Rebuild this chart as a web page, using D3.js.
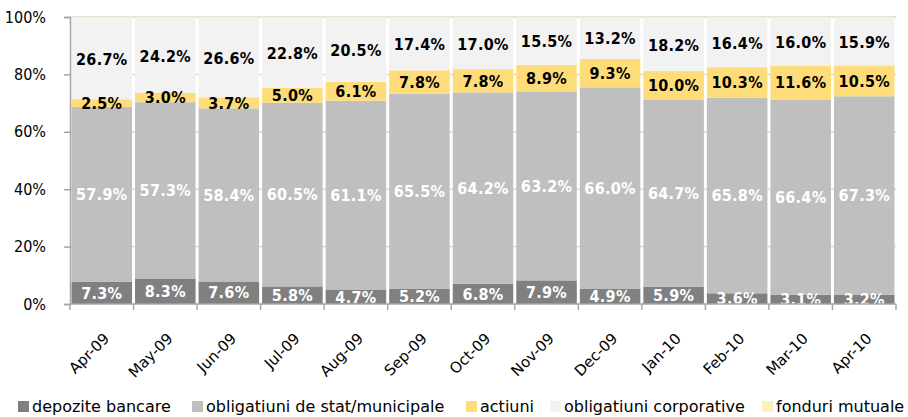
<!DOCTYPE html>
<html>
<head>
<meta charset="utf-8">
<script src="https://cdn.jsdelivr.net/npm/d3@7"></script>
<style>
  body { margin: 0; background: #fff; }
  svg { display: block; font-family: "DejaVu Sans", sans-serif; }
</style>
</head>
<body>
<svg id="chart" width="908" height="417"></svg>
<script>
// months on the x axis
var months = ["Apr-09","May-09","Jun-09","Jul-09","Aug-09","Sep-09","Oct-09","Nov-09","Dec-09","Jan-10","Feb-10","Mar-10","Apr-10"];

// series values (% of portfolio)
var depozite    = [7.3, 8.3, 7.6, 5.8, 4.7, 5.2, 6.8, 7.9, 4.9, 5.9, 3.6, 3.1, 3.2];
var stat        = [57.9, 57.3, 58.4, 60.5, 61.1, 65.5, 64.2, 63.2, 66.0, 64.7, 65.8, 66.4, 67.3];
var actiuni     = [2.5, 3.0, 3.7, 5.0, 6.1, 7.8, 7.8, 8.9, 9.3, 10.0, 10.3, 11.6, 10.5];
var corporative = [26.7, 24.2, 26.6, 22.8, 20.5, 17.4, 17.0, 15.5, 13.2, 18.2, 16.4, 16.0, 15.9];
var fonduri     = [0.5, 0.5, 0.5, 0.5, 0.5, 0.5, 0.5, 0.5, 0.5, 0.5, 0.5, 0.5, 0.5];

var yTicks = [0, 0.2, 0.4, 0.6, 0.8, 1];

var series = [
  {key: "dep",  name: "depozite bancare",               values: depozite,    color: "#808080", label: "#ffffff", show: true},
  {key: "stat", name: "obligatiuni de stat/municipale", values: stat,        color: "#bfbfbf", label: "#ffffff", show: true},
  {key: "act",  name: "actiuni",                        values: actiuni,     color: "#ffdc7a", label: "#000000", show: true},
  {key: "corp", name: "obligatiuni corporative",        values: corporative, color: "#f2f2f2", label: "#000000", show: true},
  {key: "fond", name: "fonduri mutuale",                values: fonduri,     color: "#ffefbf", label: "#000000", show: false}
];

// build table rows for the stack
var rows = months.map(function(m, i){
  var r = {month: m};
  series.forEach(function(s){ r[s.key] = s.values[i]; });
  return r;
});

var margin = {left: 70, right: 12, top: 17, bottom: 113};
var W = 908, H = 417;

var svg = d3.select("#chart");

var x = d3.scaleBand()
  .domain(months)
  .range([margin.left, W - margin.right])
  .paddingInner(0).paddingOuter(0);

var y = d3.scaleLinear()
  .domain([0, 1])
  .range([H - margin.bottom, margin.top]);

var stack = d3.stack()
  .keys(series.map(function(s){ return s.key; }))
  .offset(d3.stackOffsetExpand);

var layers = stack(rows);

// gridlines
svg.append("g")
  .selectAll("line")
  .data(yTicks.slice(1))
  .join("line")
    .attr("x1", margin.left)
    .attr("x2", W - margin.right)
    .attr("y1", function(d){ return y(d); })
    .attr("y2", function(d){ return y(d); })
    .style("stroke", "#d9d9d9")
    .style("stroke-width", 1.5);

// bars
var gap = 3;
svg.append("g")
  .selectAll("g")
  .data(layers)
  .join("g")
    .style("fill", function(d, i){ return series[i].color; })
  .selectAll("rect")
  .data(function(d){ return d; })
  .join("rect")
    .attr("x", function(d){ return x(d.data.month) + gap / 2; })
    .attr("width", x.bandwidth() - gap)
    .attr("y", function(d){ return y(d[1]); })
    .attr("height", function(d){ return y(d[0]) - y(d[1]); });

// clip for labels at plot area
svg.append("clipPath").attr("id", "plotClip")
  .append("rect")
    .attr("x", margin.left)
    .attr("y", margin.top)
    .attr("width", W - margin.left - margin.right)
    .attr("height", H - margin.top - margin.bottom);

var labelG = svg.append("g").attr("clip-path", "url(#plotClip)");

layers.forEach(function(layer, i){
  var s = series[i];
  if (!s.show) return;
  labelG.append("g")
    .selectAll("text")
    .data(layer)
    .join("text")
      .attr("x", function(d){ return x(d.data.month) + x.bandwidth() / 2; })
      .attr("y", function(d){ return (y(d[0]) + y(d[1])) / 2; })
      .attr("dy", "0.36em")
      .attr("text-anchor", "middle")
      .style("font-family", "'DejaVu Sans Condensed', 'DejaVu Sans', sans-serif")
      .style("font-stretch", "condensed")
      .style("font-size", "16px")
      .style("font-weight", "bold")
      .style("letter-spacing", "0.3px")
      .style("fill", s.label)
      .text(function(d, j){ return s.values[j].toFixed(1) + "%"; });
});

// y axis
var yAxis = svg.append("g")
  .attr("transform", "translate(" + margin.left + ",0)")
  .call(d3.axisLeft(y).tickValues(yTicks).tickFormat(d3.format(".0%")).tickSize(6).tickPadding(18));
yAxis.select(".domain").style("stroke", "#a6a6a6").style("stroke-width", 1.5);
yAxis.selectAll(".tick line").style("stroke", "#a6a6a6").style("stroke-width", 1.5);
yAxis.selectAll("text")
  .style("font-size", "16px")
  .style("fill", "#000")
  .style("font-family", "'DejaVu Sans Condensed', 'DejaVu Sans', sans-serif")
  .style("font-stretch", "condensed");

// x axis: ticks at band boundaries
var xAxisG = svg.append("g")
  .attr("transform", "translate(0," + y(0) + ")");
xAxisG.append("line")
  .attr("x1", margin.left).attr("x2", W - margin.right)
  .style("stroke", "#a6a6a6").style("stroke-width", 1.5);
xAxisG.selectAll("line.tk")
  .data(months.concat(["end"]))
  .join("line")
    .attr("class", "tk")
    .attr("x1", function(d, i){ return i < months.length ? x(d) : x.range()[1]; })
    .attr("x2", function(d, i){ return i < months.length ? x(d) : x.range()[1]; })
    .attr("y1", 0).attr("y2", 6)
    .style("stroke", "#a6a6a6").style("stroke-width", 1.5);
xAxisG.selectAll("text")
  .data(months)
  .join("text")
    .attr("transform", function(d){
      return "translate(" + (x(d) + x.bandwidth() / 2 + 1) + ",28) rotate(-45)";
    })
    .attr("text-anchor", "end")
    .attr("dy", "0.7em")
    .style("font-size", "15px")
    .text(function(d){ return d; });

// legend
var legendX = [18, 192, 466, 550, 762];
var legend = svg.append("g").attr("transform", "translate(0,406)");
var items = legend.selectAll("g")
  .data(series)
  .join("g")
    .attr("transform", function(d, i){ return "translate(" + legendX[i] + ",0)"; });
items.append("rect")
  .attr("x", 0).attr("y", -5)
  .attr("width", 11).attr("height", 11)
  .style("fill", function(d){ return d.color; });
items.append("text")
  .attr("x", 14)
  .attr("dy", "0.35em")
  .style("font-size", "16px")
  .text(function(d){ return d.name; });
</script>
</body>
</html>
